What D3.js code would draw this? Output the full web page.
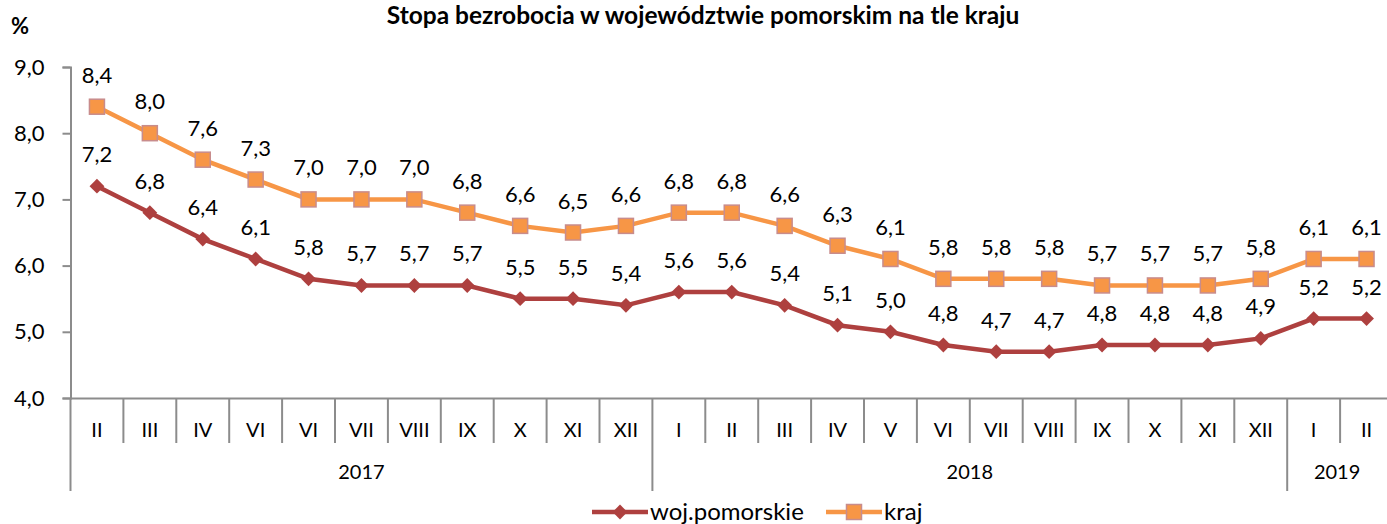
<!DOCTYPE html>
<html><head><meta charset="utf-8">
<script src="https://cdn.jsdelivr.net/npm/d3@7"></script>
<style>body{margin:0;background:#fff}svg{display:block}text{font-family:Lato,"Open Sans",sans-serif;fill:#000}</style>
</head><body><svg id="c" width="1387" height="524"></svg>
<script>
const months = ["II","III","IV","VI","VI","VII","VIII","IX","X","XI","XII","I","II","III","IV","V","VI","VII","VIII","IX","X","XI","XII","I","II"];
const years = [{label:"2017",count:11},{label:"2018",count:12},{label:"2019",count:2}];
const pomorskie = [7.2,6.8,6.4,6.1,5.8,5.7,5.7,5.7,5.5,5.5,5.4,5.6,5.6,5.4,5.1,5.0,4.8,4.7,4.7,4.8,4.8,4.8,4.9,5.2,5.2];
const kraj = [8.4,8.0,7.6,7.3,7.0,7.0,7.0,6.8,6.6,6.5,6.6,6.8,6.8,6.6,6.3,6.1,5.8,5.8,5.8,5.7,5.7,5.7,5.8,6.1,6.1];
const yTicks = [4,5,6,7,8,9];

(function(){
const svg = d3.select("#c");
const pLeft = 70.5, pRight = 1393, pTop = 67, pBottom = 398;
const idx = months.map((m,i)=>i);
const x = d3.scaleBand().domain(idx).range([pLeft,pRight]);
const y = d3.scaleLinear().domain([4,9]).range([pBottom,pTop]);
const fmt = v => d3.format(".1f")(v).replace(".",",");
const axisCol = "#8c8c8c";

svg.append("text").attr("x",703).attr("y",24).attr("text-anchor","middle")
  .attr("font-weight","bold").attr("font-size",24.5).text("Stopa bezrobocia w województwie pomorskim na tle kraju");
svg.append("text").attr("x",11).attr("y",34).attr("font-weight","bold").attr("font-size",22).text("%");

const ya = svg.append("g").attr("transform",`translate(${pLeft},0)`)
  .call(d3.axisLeft(y).tickValues(yTicks).tickSize(8).tickPadding(18).tickFormat(fmt));
ya.select(".domain").attr("stroke",axisCol).attr("stroke-width",2);
ya.selectAll(".tick line").attr("stroke",axisCol).attr("stroke-width",2);
ya.selectAll(".tick text").attr("font-size",22).style("font-family","Lato,sans-serif");

const xa = svg.append("g").attr("transform",`translate(0,${pBottom})`)
  .call(d3.axisBottom(x).tickSize(0).tickPadding(25).tickFormat(i=>months[i]));
xa.select(".domain").attr("stroke",axisCol).attr("stroke-width",2);
xa.selectAll(".tick text").attr("font-size",20).style("font-family","Lato,sans-serif");
const groupStarts = [];
let acc = 0; years.forEach(g=>{groupStarts.push(acc); acc+=g.count;});
idx.forEach(i=>{
  const gx = x(i);
  const isGroup = groupStarts.includes(i);
  svg.append("line").attr("x1",gx).attr("x2",gx).attr("y1",pBottom).attr("y2",isGroup?491:443)
    .attr("stroke",axisCol).attr("stroke-width",2);
});
acc = 0;
years.forEach(g=>{
  const cx = (x(acc) + x(acc+g.count-1) + x.bandwidth())/2;
  const cxClamped = g.label==="2019" ? (x(acc)+1387)/2 : cx;
  svg.append("text").attr("x",cxClamped).attr("y",479).attr("text-anchor","middle").attr("font-size",20).text(g.label);
  acc += g.count;
});

const cxp = i => x(i)+x.bandwidth()/2;
const line = d3.line().x((d,i)=>cxp(i)).y(d=>y(d));
const redCol = "#AE403F", orCol = "#F79646", sqStroke = "#C88C8C";

svg.append("path").datum(pomorskie).attr("d",line).attr("fill","none").attr("stroke",redCol).attr("stroke-width",4.5);
svg.append("path").datum(kraj).attr("d",line).attr("fill","none").attr("stroke",orCol).attr("stroke-width",4.5);

svg.selectAll(".pm").data(pomorskie).join("path")
  .attr("d",d3.symbol().type(d3.symbolSquare).size(110)).attr("transform",(d,i)=>`translate(${cxp(i)},${y(d)}) rotate(45)`)
  .attr("fill",redCol);
svg.selectAll(".km").data(kraj).join("rect").attr("x",(d,i)=>cxp(i)-7.5).attr("y",d=>y(d)-7.5)
  .attr("width",15).attr("height",15).attr("fill",orCol).attr("stroke",sqStroke).attr("stroke-width",1.5);

svg.selectAll(".pl").data(pomorskie).join("text").attr("x",(d,i)=>cxp(i)).attr("y",d=>y(d)-24)
  .attr("text-anchor","middle").attr("font-size",22).text(fmt);
svg.selectAll(".kl").data(kraj).join("text").attr("x",(d,i)=>cxp(i)).attr("y",d=>y(d)-24)
  .attr("text-anchor","middle").attr("font-size",22).text(fmt);

const lg = svg.append("g");
lg.append("line").attr("x1",592).attr("x2",648).attr("y1",512).attr("y2",512).attr("stroke",redCol).attr("stroke-width",4.5);
lg.append("path").attr("d",d3.symbol().type(d3.symbolSquare).size(110)).attr("transform","translate(620,512) rotate(45)").attr("fill",redCol);
lg.append("text").attr("x",650).attr("y",520).attr("font-size",24).text("woj.pomorskie");
lg.append("line").attr("x1",826).attr("x2",882).attr("y1",512).attr("y2",512).attr("stroke",orCol).attr("stroke-width",4.5);
lg.append("rect").attr("x",846.5).attr("y",504.5).attr("width",15).attr("height",15).attr("fill",orCol).attr("stroke",sqStroke).attr("stroke-width",1.5);
lg.append("text").attr("x",884).attr("y",520).attr("font-size",24).text("kraj");
})();
</script></body></html>
